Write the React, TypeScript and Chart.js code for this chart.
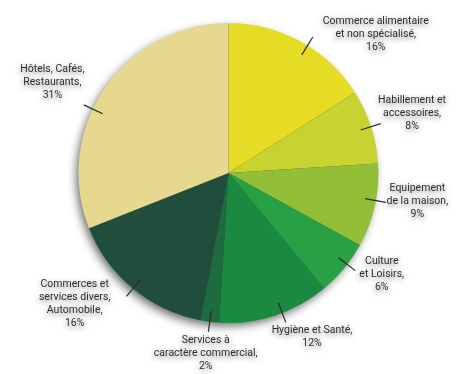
import React, { useEffect, useRef } from "react";
import { Chart, registerables } from "chart.js";

Chart.register(...registerables);

const categories: string[][] = [
  ["Commerce alimentaire", "et non spécialisé,"],
  ["Habillement et", "accessoires,"],
  ["Equipement", "de la maison,"],
  ["Culture", "et Loisirs,"],
  ["Hygiène et Santé,"],
  ["Services à", "caractère commercial,"],
  ["Commerces et", "services divers,", "Automobile,"],
  ["Hôtels, Cafés,", "Restaurants,"],
];
const shares: number[] = [16, 8, 9, 6, 12, 2, 16, 31];
const colors: string[] = [
  "#e6dc24",
  "#c8d230",
  "#93bf38",
  "#28a045",
  "#1b8a41",
  "#1d6c3f",
  "#214e3c",
  "#e6d98f",
];
// label placement: angle shift (deg) from slice middle, and distance beyond radius (px)
const labelAngleShift: number[] = [18, 0, -4, -6, -9, 0, 10, -7];
const labelGap: number[] = [52, 43, 41, 34, 34, 32, 52, 48];
const leaderAngleShift: number[] = [3, 0, -2, -2, -3, 0, 0, -9];

const shadowPlugin = {
  id: "pieShadow",
  beforeDatasetsDraw(chart: any) {
    const meta = chart.getDatasetMeta(0);
    const arc = meta.data[0];
    if (!arc) return;
    const { x, y, outerRadius } = arc.getProps(["x", "y", "outerRadius"], true);
    const ctx = chart.ctx;
    ctx.save();
    ctx.shadowColor = "rgba(0,0,0,0.6)";
    ctx.shadowBlur = 10;
    ctx.shadowOffsetX = -3;
    ctx.shadowOffsetY = 4;
    ctx.fillStyle = "#444";
    ctx.beginPath();
    ctx.arc(x, y, outerRadius - 1, 0, Math.PI * 2);
    ctx.fill();
    ctx.restore();
  },
};

const labelPlugin = {
  id: "pieLabels",
  afterDatasetsDraw(chart: any) {
    const meta = chart.getDatasetMeta(0);
    const ctx = chart.ctx;
    ctx.save();
    meta.data.forEach((arc: any, i: number) => {
      const { x, y, outerRadius, startAngle, endAngle } = arc.getProps(
        ["x", "y", "outerRadius", "startAngle", "endAngle"],
        true
      );
      const mid = (startAngle + endAngle) / 2;
      const lm = mid + (leaderAngleShift[i] * Math.PI) / 180;
      // leader line
      ctx.strokeStyle = "#2a2a2a";
      ctx.lineWidth = 1.2;
      ctx.beginPath();
      ctx.moveTo(x + Math.cos(lm) * (outerRadius - 11), y + Math.sin(lm) * (outerRadius - 11));
      ctx.lineTo(x + Math.cos(lm) * (outerRadius + 10), y + Math.sin(lm) * (outerRadius + 10));
      ctx.stroke();
      // label text
      const la = mid + (labelAngleShift[i] * Math.PI) / 180;
      const d = outerRadius + labelGap[i];
      const cx = x + Math.cos(la) * d;
      const cy = y + Math.sin(la) * d;
      const lines = [...categories[i], shares[i] + "%"];
      const lh = 13;
      const top = cy - ((lines.length - 1) * lh) / 2;
      ctx.font = "10.5px Roboto, 'DejaVu Sans', sans-serif";
      ctx.textAlign = "center";
      ctx.textBaseline = "middle";
      ctx.shadowColor = "rgba(0,0,0,0.6)";
      ctx.shadowBlur = 6;
      ctx.shadowOffsetX = 0;
      ctx.shadowOffsetY = 2;
      ctx.fillStyle = "#2e2e2e";
      lines.forEach((t, k) => ctx.fillText(t, cx, top + k * lh));
      ctx.shadowColor = "transparent";
    });
    ctx.restore();
  },
};

export default function App() {
  const ref = useRef<HTMLCanvasElement>(null);
  useEffect(() => {
    if (!ref.current) return;
    const chart = new Chart(ref.current, {
      type: "pie",
      data: {
        labels: categories.map((c) => c.join(" ")),
        datasets: [
          {
            data: shares,
            backgroundColor: colors,
            borderWidth: 0,
          },
        ],
      },
      options: {
        responsive: false,
        animation: false,
        layout: { padding: { top: 23, bottom: 51, left: 78.5, right: 78.5 } },
        plugins: { legend: { display: false }, tooltip: { enabled: false } },
      },
      plugins: [shadowPlugin, labelPlugin],
    });
    return () => chart.destroy();
  }, []);
  return (
    <div style={{ position: "fixed", left: 0, top: 0, width: 457, height: 374, background: "#fff" }}>
      <canvas ref={ref} width={457} height={374} />
    </div>
  );
}
